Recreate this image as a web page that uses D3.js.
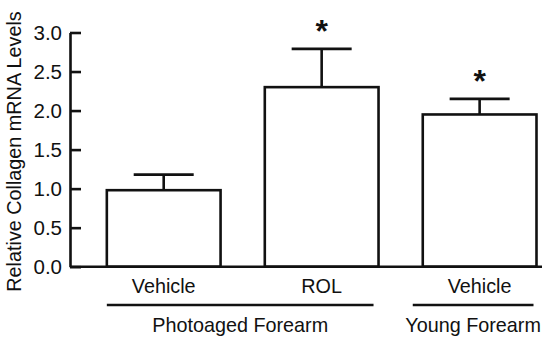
<!DOCTYPE html>
<html>
<head>
<meta charset="utf-8">
<script src="https://cdn.jsdelivr.net/npm/d3@7"></script>
<style>
  body { margin: 0; background: #fff; }
  svg { display: block; font-family: "Liberation Sans", Arial, sans-serif; }
</style>
</head>
<body>
<svg id="chart" width="550" height="339"></svg>
<script>
const categories = ["Vehicle", "ROL", "Vehicle "];
const categoryLabels = ["Vehicle", "ROL", "Vehicle"];
const values = [0.98, 2.30, 1.95];
const errors = [0.20, 0.49, 0.20];
const significant = [false, true, true];
const yTicks = [0, 0.5, 1.0, 1.5, 2.0, 2.5, 3.0];
const groups = [
  { label: "Photoaged Forearm", first: 0, last: 1 },
  { label: "Young Forearm", first: 2, last: 2 }
];
const yTitle = "Relative Collagen mRNA Levels";

const svg = d3.select("#chart");
const x0 = 70, x1 = 542, yTop = 32.5, yBottom = 266.7;
const sw = 2.6, ink = "#111";
const fs = 19.8;

const y = d3.scaleLinear().domain([0, 3]).range([yBottom, yTop]);
const x = d3.scaleBand().domain(categories).range([x0, x1])
  .paddingInner(0.28).paddingOuter(0.134).align(0.87);

// bars
const g = svg.append("g");
categories.forEach((c, i) => {
  const bx = x(c), bw = x.bandwidth(), cx = bx + bw / 2;
  g.append("line").attr("x1", cx).attr("x2", cx)
    .attr("y1", y(values[i])).attr("y2", y(values[i] + errors[i]))
    .attr("stroke", ink).attr("stroke-width", sw);
  g.append("line").attr("x1", cx - 30).attr("x2", cx + 30)
    .attr("y1", y(values[i] + errors[i])).attr("y2", y(values[i] + errors[i]))
    .attr("stroke", ink).attr("stroke-width", sw);
  g.append("rect").attr("x", bx).attr("y", y(values[i]))
    .attr("width", bw).attr("height", yBottom - y(values[i]))
    .attr("fill", "#fff").attr("stroke", ink).attr("stroke-width", sw);
  if (significant[i]) {
    g.append("text").attr("x", cx).attr("y", y(values[i] + errors[i]) - 7)
      .attr("text-anchor", "middle").attr("font-size", 32).attr("font-weight", "bold")
      .attr("fill", ink).text("*");
  }
});

// y axis
const yAxis = d3.axisLeft(y).tickValues(yTicks).tickFormat(d3.format(".1f"))
  .tickSizeInner(-11).tickSizeOuter(0).tickPadding(8);
const ya = svg.append("g").attr("transform", `translate(${x0},0)`).call(yAxis);
ya.attr("font-family", null).attr("font-size", null);
ya.select(".domain").attr("stroke", ink).attr("stroke-width", sw);
ya.selectAll(".tick line").attr("stroke", ink).attr("stroke-width", sw);
ya.selectAll(".tick text").attr("font-size", 20.5).attr("fill", ink)
  .attr("font-family", "Liberation Sans, Arial, sans-serif");

// x axis line
svg.append("line").attr("x1", x0).attr("x2", x1).attr("y1", yBottom).attr("y2", yBottom)
  .attr("stroke", ink).attr("stroke-width", sw);

// category labels
categories.forEach((c, i) => {
  svg.append("text").attr("x", x(c) + x.bandwidth() / 2).attr("y", 293)
    .attr("text-anchor", "middle").attr("font-size", fs).attr("fill", ink)
    .text(categoryLabels[i]);
});

// groups
groups.forEach(gr => {
  const a = x(categories[gr.first]);
  const b = x(categories[gr.last]) + x.bandwidth();
  const la = gr.first === 0 ? a : a - 10;
  const lb = gr.first === 0 ? b - 5 : b - 3;
  svg.append("line").attr("x1", la).attr("x2", lb).attr("y1", 305).attr("y2", 305)
    .attr("stroke", ink).attr("stroke-width", sw);
  svg.append("text").attr("x", (la + lb) / 2).attr("y", 332)
    .attr("text-anchor", "middle").attr("font-size", fs).attr("fill", ink)
    .text(gr.label);
});

// y title
svg.append("text").attr("transform", `translate(21,${(8 + 295) / 2}) rotate(-90)`)
  .attr("text-anchor", "middle").attr("font-size", fs).attr("fill", ink)
  .text(yTitle);
</script>
</body>
</html>
